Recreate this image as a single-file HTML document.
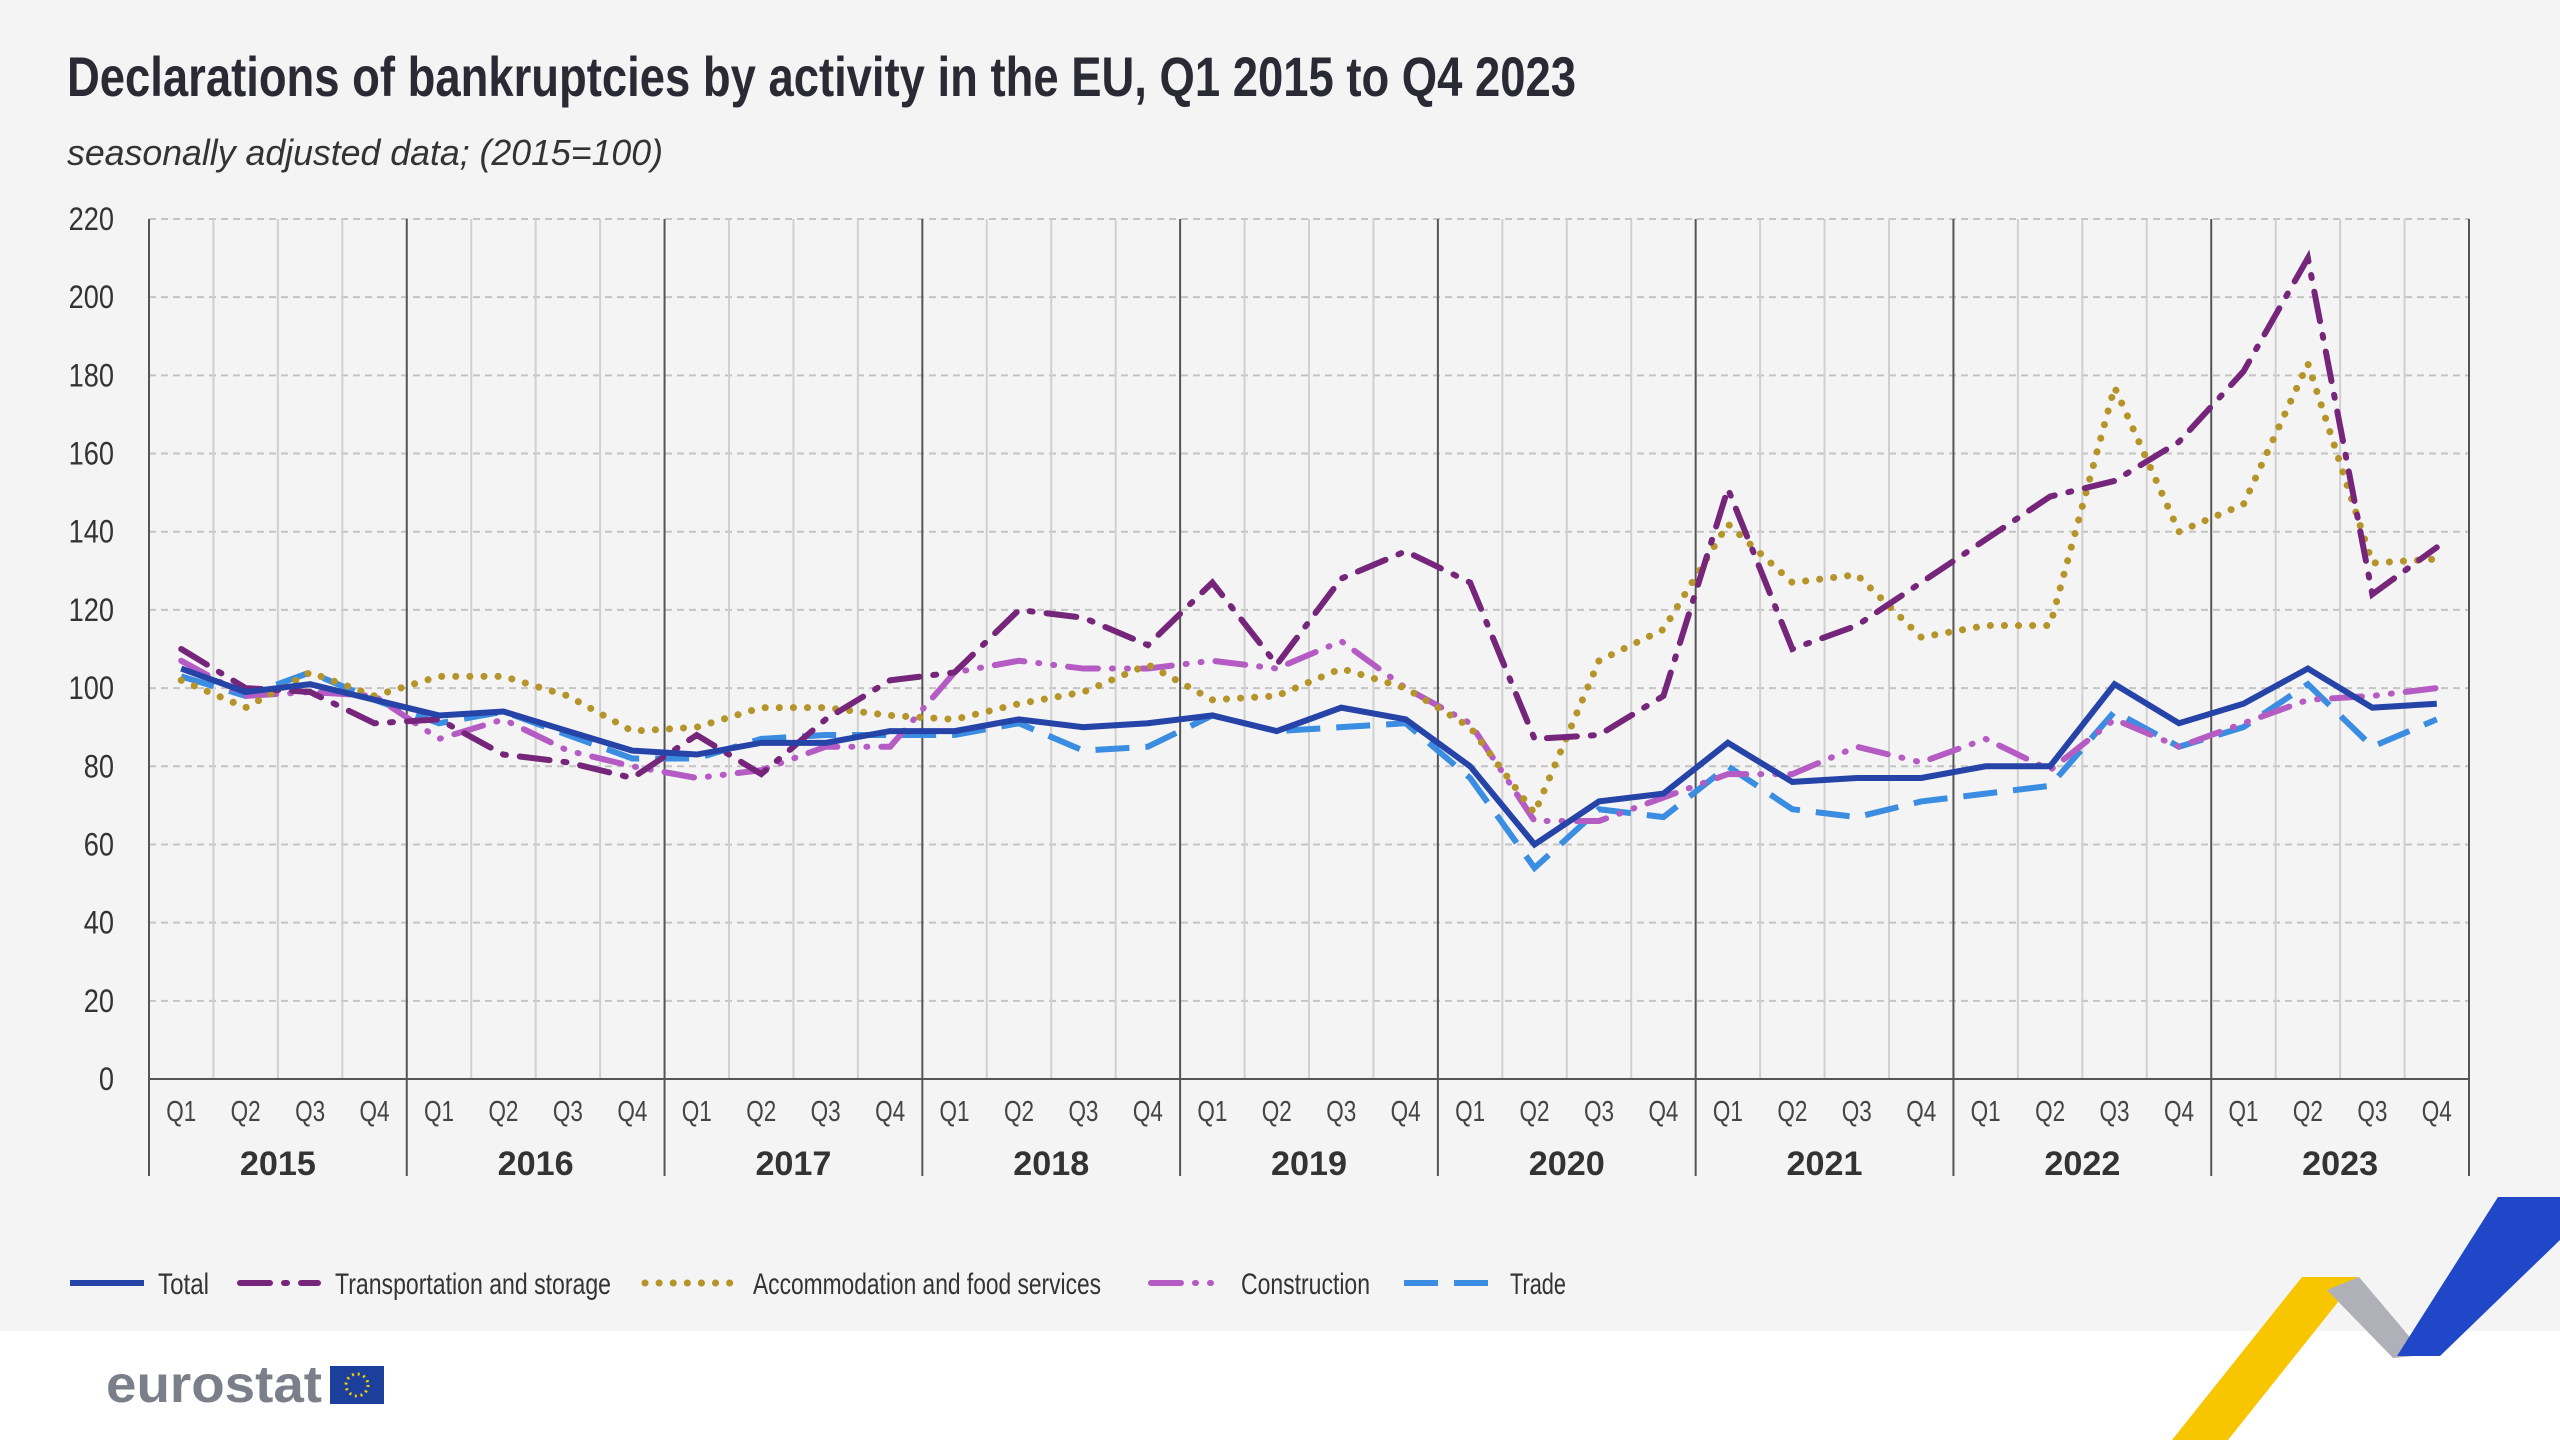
<!DOCTYPE html>
<html><head><meta charset="utf-8"><style>
body{margin:0;width:2560px;height:1440px;background:#fff;font-family:"Liberation Sans Narrow","Liberation Sans",sans-serif;overflow:hidden}
</style></head><body>
<svg id="c" width="2560" height="1440" xmlns="http://www.w3.org/2000/svg">
<rect x="0" y="0" width="2560" height="1331" fill="#f4f4f4"/>
<text x="67" y="96" font-size="56" font-weight="bold" fill="#2a2a35" textLength="1509" lengthAdjust="spacingAndGlyphs">Declarations of bankruptcies by activity in the EU, Q1 2015 to Q4 2023</text>
<text x="67" y="165" font-size="36" font-style="italic" fill="#333" textLength="596" lengthAdjust="spacingAndGlyphs">seasonally adjusted data; (2015=100)</text>
<g id="grid"></g><g id="series"></g><g id="axes"></g>
<g id="legend" font-size="30" fill="#333"></g>
<text x="106" y="1402" font-size="52" font-weight="bold" fill="#7a7f8a" textLength="216" lengthAdjust="spacingAndGlyphs">eurostat</text>
<g><rect x="330" y="1366" width="54" height="38" fill="#1b3f9a"/>
<circle cx="357" cy="1385" r="11" fill="none" stroke="#f5d000" stroke-width="3" stroke-dasharray="2 3.8"/></g>
<polygon points="2172,1440 2302,1277 2358,1277 2228,1440" fill="#f7c600"/>
<polygon points="2327,1290 2359,1277 2425,1355 2393,1358" fill="#b0b0b8"/>
<polygon points="2397,1356 2498,1197 2560,1197 2560,1240 2440,1356" fill="#1f47c8"/>
</svg>
<script>
const categories=["Q1","Q2","Q3","Q4"];
const years=["2015","2016","2017","2018","2019","2020","2021","2022","2023"];
const yTicks=[0,20,40,60,80,100,120,140,160,180,200,220];
const total=[105,99,101,97,93,94,89,84,83,86,86,89,89,92,90,91,93,89,95,92,80,60,71,73,86,76,77,77,80,80,101,91,96,105,95,96];
const transport=[110,100,99,91,92,83,81,77,88,78,92,102,104,120,118,111,127,106,128,135,127,87,88,98,151,110,116,127,138,149,153,163,181,210,124,136];
const accommodation=[102,95,104,98,103,103,98,89,90,95,95,93,92,96,99,106,97,98,105,100,90,68,107,115,142,127,129,113,116,116,177,140,147,183,132,133];
const construction=[107,98,99,98,87,92,84,80,77,79,85,85,104,107,105,105,107,105,112,100,91,66,66,72,78,78,85,81,87,79,92,85,91,97,98,100];
const trade=[103,98,104,97,91,94,88,82,82,87,88,88,88,91,84,85,93,89,90,91,77,54,69,67,80,69,67,71,73,75,94,85,90,101,85,92];
const seriesNames=["Total","Transportation and storage","Accommodation and food services","Construction","Trade"];

const NS="http://www.w3.org/2000/svg";
const X0=149,X1=2469,Y0=1079,Y1=219,N=36;
const qw=(X1-X0)/N;
function xs(i){return X0+qw*(i+0.5);}
function ys(v){return Y0-(v/220)*(Y0-Y1);}
function mk(tag,attrs,parent){const e=document.createElementNS(NS,tag);for(const k in attrs)e.setAttribute(k,attrs[k]);parent.appendChild(e);return e;}
const grid=document.getElementById('grid'),axes=document.getElementById('axes'),sg=document.getElementById('series'),lg=document.getElementById('legend');
yTicks.forEach(t=>{
  if(t>0){const l=mk('line',{x1:X0,x2:X1,y1:ys(t),y2:ys(t),stroke:'#c4c4c4','stroke-width':2,'stroke-dasharray':'7 5'},grid);
  
  }
  const tx=mk('text',{x:114,y:ys(t)+11,'text-anchor':'end','font-size':32,fill:'#333',transform:`translate(114 0) scale(0.85 1) translate(-114 0)`},axes);
  tx.textContent=t;
  
  
});
for(let i=0;i<=N;i++){
  const yr=i%4===0;
  const l=mk('line',{x1:X0+qw*i,x2:X0+qw*i,y1:Y1,y2:yr?1176:Y0,stroke:yr?'#555':'#d0d0d0','stroke-width':2},grid);
  
  
}
const base=mk('line',{x1:X0,x2:X1,y1:Y0,y2:Y0,stroke:'#555','stroke-width':2},axes);


for(let i=0;i<N;i++){
  const t=mk('text',{x:xs(i),y:1121,'text-anchor':'middle','font-size':29,fill:'#444',textLength:30,lengthAdjust:'spacingAndGlyphs'},axes);
  t.textContent=categories[i%4];
  
  
}
years.forEach((y,j)=>{
  const t=mk('text',{x:X0+qw*(4*j+2),y:1175,'text-anchor':'middle','font-size':34,'font-weight':'bold',fill:'#333',textLength:76,lengthAdjust:'spacingAndGlyphs'},axes);
  t.textContent=y;
  
  
});
const styles=[
 {d:total,c:'#2644a8',dash:'',w:6,cap:'butt'},
 {d:transport,c:'#76267a',dash:'30 14 3 14',w:6,cap:'round'},
 {d:accommodation,c:'#b5952a',dash:'0.1 14',w:7,cap:'round'},
 {d:construction,c:'#b55bc4',dash:'30 14 1 14 1 14',w:6,cap:'round'},
 {d:trade,c:'#3a8de0',dash:'34 16',w:6,cap:'butt'}];
const keys=['total','transport','accommodation','construction','trade'];
[4,3,2,1,0].forEach(k=>{
  const s=styles[k];
  const p=mk('polyline',{points:s.d.map((v,i)=>xs(i)+','+ys(v)).join(' '),fill:'none',stroke:s.c,'stroke-width':s.w,'stroke-dasharray':s.dash,'stroke-linecap':s.cap,'stroke-linejoin':'miter'},sg);
  
  
});
const lx=[[70,144,158],[240,318,335],[645,735,753],[1151,1225,1241],[1404,1494,1510]];
const lw=[51,276,348,129,56];
seriesNames.forEach((n,k)=>{
  const s=styles[k];
  const g=mk('g',{},lg);
  
  
  mk('line',{x1:lx[k][0],x2:lx[k][1],y1:1283,y2:1283,stroke:s.c,'stroke-width':s.w,'stroke-dasharray':s.dash,'stroke-linecap':s.cap},g);
  const t=mk('text',{x:lx[k][2],y:1294,'font-size':30,fill:'#333',textLength:lw[k],lengthAdjust:'spacingAndGlyphs'},g);
  t.textContent=n;
});
</script>
</body></html>
